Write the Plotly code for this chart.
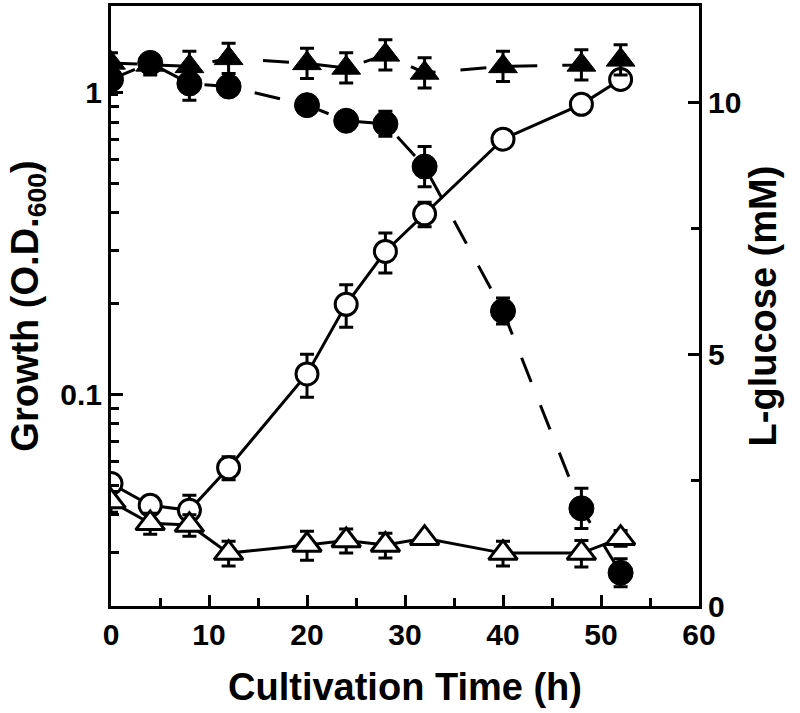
import math
import plotly.graph_objects as go

# ---- data ----
time_h = [0, 4, 8, 12, 20, 24, 28, 32, 40, 48, 52]

# Growth (O.D.600), left log axis
growth_cells = [0.0507, 0.0429, 0.0413, 0.0572, 0.117, 0.199, 0.298, 0.397, 0.702, 0.916, 1.107]
growth_cells_err = [0.002, 0.002, 0.005, 0.005, 0.019, 0.032, 0.045, 0.037, 0.016, 0.03, 0.03]
growth_ctrl = [0.0442, 0.0374, 0.0369, 0.0298, 0.0317, 0.0328, 0.0317, 0.0334, 0.0298, 0.0298, 0.0334]
growth_ctrl_err = [0.0035, 0.003, 0.003, 0.0028, 0.0035, 0.003, 0.003, 0.001, 0.0028, 0.003, 0.002]

# L-glucose (mM), right axis
lglc_cells = [10.46, 10.79, 10.38, 10.32, 9.95, 9.64, 9.58, 8.73, 5.86, 1.94, 0.66]
lglc_cells_err = [0.3, 0.1, 0.33, 0.1, 0.15, 0.1, 0.25, 0.4, 0.26, 0.4, 0.28]
lglc_ctrl = [10.79, 10.75, 10.72, 10.88, 10.78, 10.69, 10.95, 10.59, 10.72, 10.75, 10.85]
lglc_ctrl_err = [0.2, 0.2, 0.3, 0.3, 0.3, 0.3, 0.3, 0.3, 0.3, 0.3, 0.3]

x_ticks = [0, 10, 20, 30, 40, 50, 60]
y_ticks = [0.1, 1]
y_tick_text = ["0.1", "1"]
y2_ticks = [0, 5, 10]

FONT = "Liberation Sans, Arial, sans-serif"
LW = 3


def err(vals):
    return dict(type="data", array=vals, visible=True, color="black", thickness=LW, width=7)


fig = go.Figure()

# filled triangles, dashed (L-glucose, no cells)
fig.add_trace(go.Scatter(
    x=time_h, y=lglc_ctrl, yaxis="y2", mode="lines+markers",
    line=dict(color="black", width=LW, dash="26px,25px"),
    marker=dict(symbol="triangle-up", size=25, color="black", line=dict(color="black", width=1)),
    error_y=err(lglc_ctrl_err), showlegend=False))

# filled circles, dashed (L-glucose, with cells)
fig.add_trace(go.Scatter(
    x=time_h, y=lglc_cells, yaxis="y2", mode="lines+markers",
    line=dict(color="black", width=LW, dash="26px,25px"),
    marker=dict(symbol="circle", size=25, color="black", line=dict(color="black", width=1)),
    error_y=err(lglc_cells_err), showlegend=False))

# open circles, solid (growth)
fig.add_trace(go.Scatter(
    x=time_h, y=growth_cells, mode="lines+markers",
    line=dict(color="black", width=LW),
    marker=dict(symbol="circle", size=22, color="white", line=dict(color="black", width=LW)),
    error_y=err(growth_cells_err), showlegend=False))

# open triangles, solid (growth control)
fig.add_trace(go.Scatter(
    x=time_h, y=growth_ctrl, mode="lines+markers",
    line=dict(color="black", width=LW),
    marker=dict(symbol="triangle-up", size=25, color="white", line=dict(color="black", width=LW)),
    error_y=err(growth_ctrl_err), showlegend=False))

tickfont = dict(family=FONT, size=30, color="black", weight="bold")
titlefont = dict(family=FONT, size=38, color="black", weight="bold")

minor_y = [0.02, 0.03, 0.04, 0.05, 0.06, 0.07, 0.08, 0.09,
           0.2, 0.3, 0.4, 0.5, 0.6, 0.7, 0.8, 0.9]

fig.update_layout(
    width=800, height=713,
    margin=dict(l=111, r=101, t=3, b=107),
    paper_bgcolor="white", plot_bgcolor="white",
    showlegend=False,
    xaxis=dict(
        range=[0, 60], tickmode="array", tickvals=x_ticks,
        ticks="inside", ticklen=11, tickwidth=LW, tickcolor="black",
        minor=dict(dtick=5, tick0=0, ticks="inside", ticklen=8, tickwidth=LW, tickcolor="black", showgrid=False),
        showline=True, linewidth=LW, linecolor="black", mirror=True,
        showgrid=False, zeroline=False, tickfont=tickfont,
        title=dict(text="Cultivation Time (h)", font=titlefont, standoff=24),
    ),
    yaxis=dict(
        type="log", range=[math.log10(0.0199), math.log10(1.94)],
        tickmode="array", tickvals=y_ticks, ticktext=y_tick_text,
        ticks="inside", ticklen=12, tickwidth=LW, tickcolor="black",
        minor=dict(tickmode="array", tickvals=minor_y, ticks="inside", ticklen=8, tickwidth=LW, tickcolor="black", showgrid=False),
        showline=True, linewidth=LW, linecolor="black",
        showgrid=False, zeroline=False, tickfont=tickfont,
        title=dict(text="Growth (O.D.<sub>600</sub>)", font=titlefont, standoff=10),
    ),
    yaxis2=dict(
        overlaying="y", side="right", range=[0, 11.92],
        tickmode="array", tickvals=y2_ticks,
        ticks="inside", ticklen=11, tickwidth=LW, tickcolor="black",
        minor=dict(tickmode="array", tickvals=[2.5, 7.5], ticks="inside", ticklen=8, tickwidth=LW, tickcolor="black", showgrid=False),
        showline=True, linewidth=LW, linecolor="black",
        showgrid=False, zeroline=False, tickfont=tickfont,
        title=dict(text="L-glucose (mM)", font=titlefont, standoff=10),
    ),
)

fig.write_html("out.html", config={"displayModeBar": False},
               post_script="document.body.style.margin='0';document.body.style.padding='0';")
